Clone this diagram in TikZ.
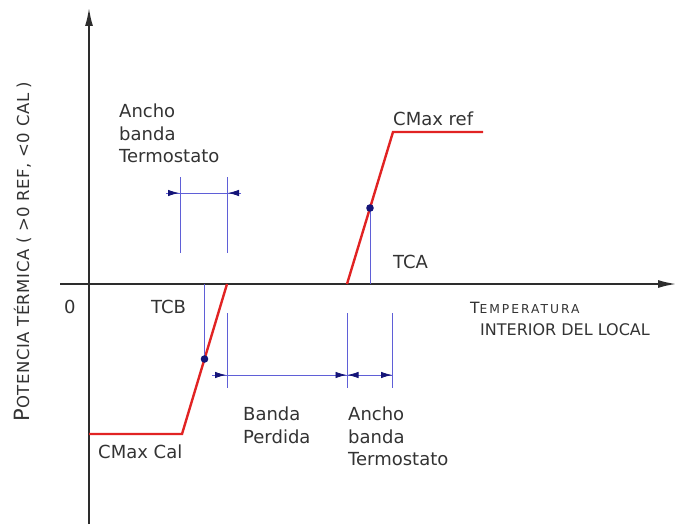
\documentclass[tikz,border=0pt]{standalone}
\usepackage{fontspec}
\setmainfont{DejaVu Sans}
\newfontfamily\capfont[LetterSpace=16]{DejaVu Sans}
\newfontfamily\ylabfont[LetterSpace=3]{DejaVu Sans}
\usetikzlibrary{arrows.meta,calc}
\definecolor{axisgray}{RGB}{45,45,45}
\definecolor{curvered}{RGB}{225,35,35}
\definecolor{dimblue}{RGB}{95,95,215}
\definecolor{tipblue}{RGB}{20,20,120}

\begin{document}
\begin{tikzpicture}[x=1pt,y=-1pt,
  every node/.style={inner sep=0pt,text=black!80,font=\fontsize{18}{22.5}\selectfont},
  axis/.style={line width=1.6pt,draw=axisgray,-{Latex[length=18pt,width=8pt]}},
  curve/.style={line width=2.4pt,draw=curvered},
  dim/.style={line width=0.8pt,draw=dimblue},
  tip/.style={dim,-{Latex[length=11pt,width=6.5pt,color=tipblue]}}]
\useasboundingbox (0,0) rectangle (676,524);
% ejes
\coordinate (ybot)   at (89,524);
\coordinate (ytop)   at (89,8);
\coordinate (xleft)  at (60,284);
\coordinate (xright) at (676,284);
\draw[axis] (ybot) -- (ytop);
\draw[axis] (xleft) -- (xright);
% curva de potencia
\coordinate (calstart) at (89,434);
\coordinate (calknee)  at (182,434);
\coordinate (calzero)  at (227,284);
\coordinate (refzero)  at (347,284);
\coordinate (refknee)  at (393,132);
\coordinate (refend)   at (483,132);
\coordinate (tcb) at ($(calknee)!0.5!(calzero)$);
\coordinate (tca) at ($(refzero)!0.5!(refknee)$);
\draw[curve] (calstart) -- (calknee) -- (calzero);
\draw[curve] (refzero) -- (refknee) -- (refend);
\draw[dim] (tcb) -- (tcb |- xleft);
\draw[dim] (tca) -- (tca |- xleft);
\fill[tipblue] (tcb) circle (3.8pt);
\fill[tipblue] (tca) circle (3.8pt);
% cotas
\foreach \x in {180,227} \draw[dim] (\x,177) -- (\x,253);
\foreach \x in {227,347,392} \draw[dim] (\x,313) -- (\x,388);
\coordinate (ua) at (166,193);
\coordinate (ub) at (241,193);
\coordinate (la) at (212,375);
\coordinate (lb) at (392,375);
\draw[dim] (ua) -- (ub);
\draw[dim] (la) -- (lb);
\draw[tip] (ua) -- (179,193);
\draw[tip] (ub) -- (228,193);
\draw[tip] (la) -- (226,375);
\draw[tip] (334,375) -- (346.5,375);
\draw[tip] (360,375) -- (347.5,375);
\draw[tip] (379,375) -- (lb);
% textos
\node[anchor=north west,align=left] (anchoup) at (119,104) {Ancho\\banda\\Termostato};
\node[anchor=base west] (cmaxref) at (393,125) {CMax ref};
\node[anchor=base west] (tcalabel) at (393,268) {TCA};
\node[anchor=base west] (tcblabel) at (151,313) {TCB};
\node[anchor=base west] (zero) at (64,313) {0};
\node[anchor=base west] (cmaxcal) at (98,458) {CMax Cal};
\node[anchor=north west,align=left] (perdida) at (243,407) {Banda\\Perdida};
\node[anchor=north west,align=left] (anchodown) at (348,407) {Ancho\\banda\\Termostato};
\node[anchor=base west] (temp) at (470,313)
  {{\fontsize{15.5}{18}\selectfont T}{\capfont\fontsize{12.3}{14}\selectfont EMPERATURA}};
\node[anchor=base west] (interior) at (480,335)
  {\fontsize{16}{19}\selectfont INTERIOR DEL LOCAL};
\node[rotate=90,anchor=base] (potencia) at (29,251.5)
  {{\ylabfont\fontsize{21}{24}\selectfont P}{\ylabfont\fontsize{16.5}{19}\selectfont OTENCIA TÉRMICA ( >0 REF, <0 CAL )}};
\end{tikzpicture}
\end{document}
